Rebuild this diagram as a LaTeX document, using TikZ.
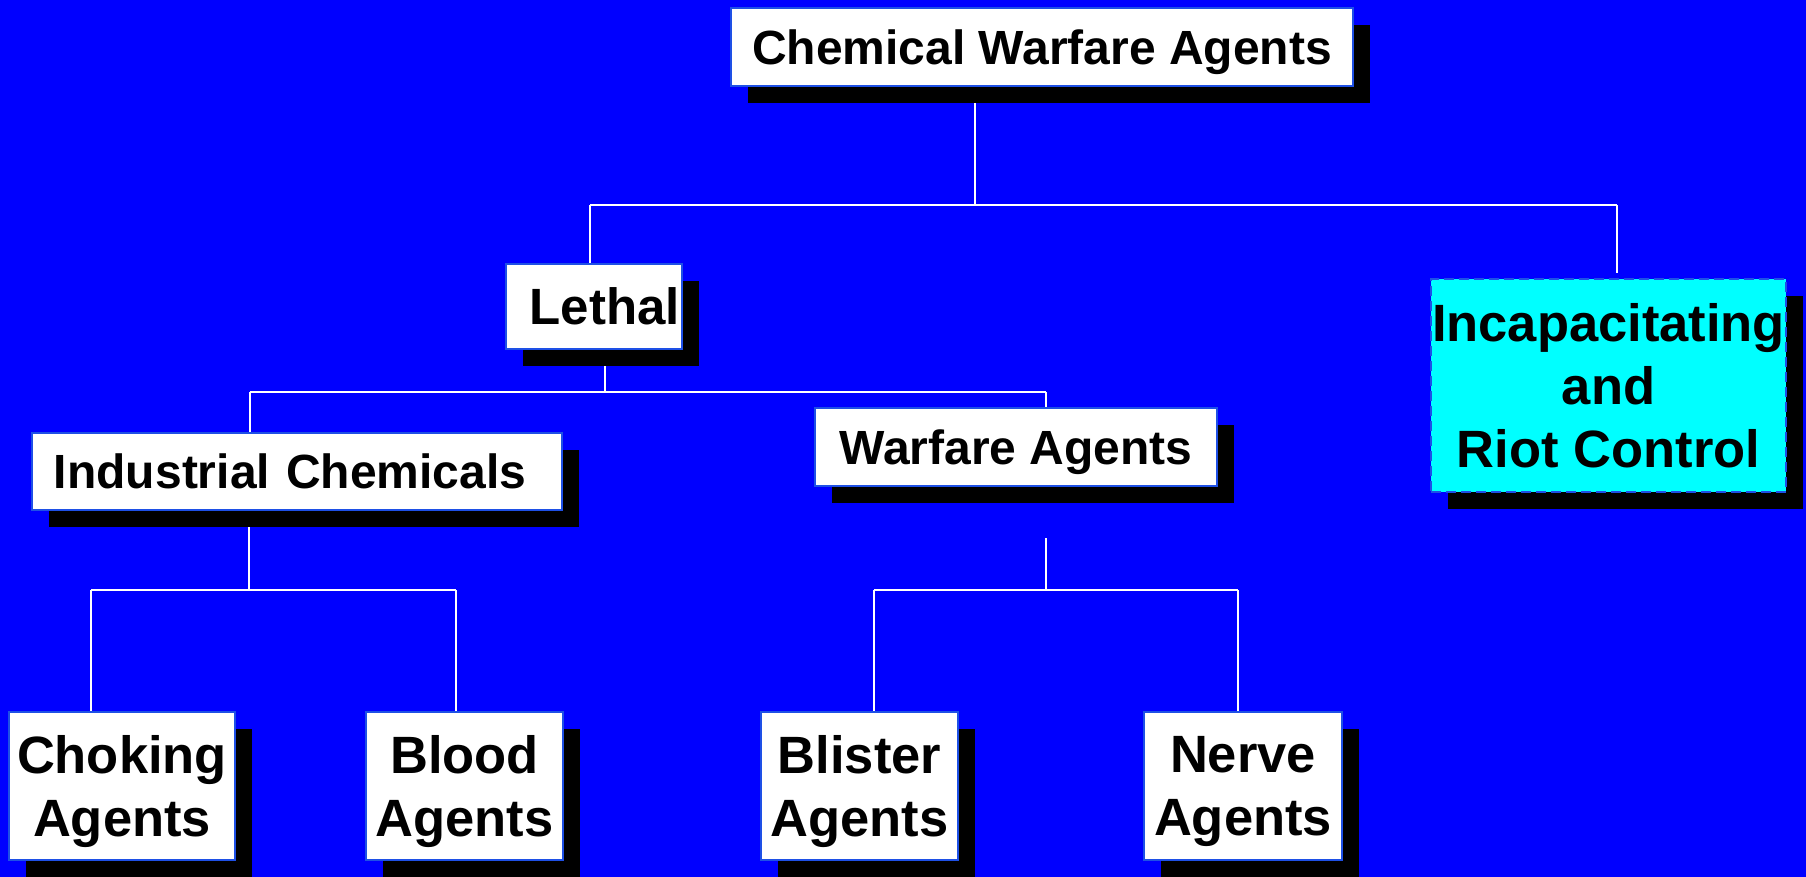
\documentclass[tikz,border=0pt]{standalone}
\usepackage{fontspec}
\setmainfont{Liberation Sans}
\usetikzlibrary{shadows}
\pgfdeclarelayer{bg}
\pgfdeclarelayer{lines}
\pgfsetlayers{bg,lines,main}
\definecolor{bgblue}{RGB}{0,0,255}
\definecolor{edgeblue}{RGB}{30,80,230}
\definecolor{cyanfill}{RGB}{0,255,255}
\tikzset{
  box/.style={draw=edgeblue, line width=1.2pt, fill=white, inner sep=0pt,
    drop shadow={shadow xshift=8.5pt, shadow yshift=-8.5pt, fill=black, opacity=1}},
  midfont/.style={font=\bfseries\fontsize{24}{29}\selectfont},
  bigfont/.style={font=\bfseries\fontsize{26.25}{31.5}\selectfont, align=center},
  lowbox/.style={box, bigfont, minimum height=74pt, text depth=-0.5pt},
  wire/.style={draw=white, line width=1pt}
}
\begin{document}
\begin{tikzpicture}[x=0.5pt,y=-0.5pt]
\begin{pgfonlayer}{bg}
  \fill[bgblue] (0,0) rectangle (1806,877);
\end{pgfonlayer}
\useasboundingbox (0,0) rectangle (1806,877);

% nodes
\node[box, midfont, text depth=0pt, minimum width=311pt, minimum height=39pt] (cwa) at (1042,47) {Chemical Warfare Agents};
\node[box, font=\bfseries\fontsize{25.5}{30}\selectfont, inner xsep=1pt, text width=86pt, align=right, minimum height=42.5pt] (lethal) at (594,306.5) {Lethal};
\node[box, fill=cyanfill, dash pattern=on 5pt off 2.5pt, bigfont, minimum width=177.5pt, minimum height=106.5pt] (incap) at (1608.5,385.5) {Incapacitating\\and\\Riot Control};
\node[box, midfont, inner xsep=11pt, text width=243pt, align=left, minimum height=38.5pt] (ind) at (297,471.5) {Industrial Chemicals};
\node[box, midfont, text depth=-0.5pt, minimum width=201pt, minimum height=39pt] (war) at (1016,447) {Warfare Agents};
\node[lowbox, minimum width=113pt] (choke) at (122,786) {Choking\\Agents};
\node[lowbox, minimum width=98.5pt] (blood) at (464.5,786) {Blood\\Agents};
\node[lowbox, minimum width=98.5pt] (blister) at (859.5,786) {Blister\\Agents};
\node[lowbox, minimum width=99pt] (nerve) at (1243,786) {Nerve\\Agents};

% junction points
\coordinate (ja) at (974.5,205);
\coordinate (jaL) at (590,205);
\coordinate (jaR) at (1617,205);
\coordinate (jb) at (605,392);
\coordinate (jbL) at (250,392);
\coordinate (jbR) at (1046,392);
\coordinate (jc) at (249,590);
\coordinate (jcL) at (91,590);
\coordinate (jcR) at (456,590);
\coordinate (jd) at (1046,590);
\coordinate (jdL) at (874,590);
\coordinate (jdR) at (1238,590);

\begin{pgfonlayer}{lines}
  \draw[wire] (cwa.south -| ja) -- (ja);
  \draw[wire] (jaL) -- (jaR);
  \draw[wire] (jaL) -- (lethal.north -| jaL);
  \draw[wire, shorten >=2.5pt] (jaR) -- (incap.north -| jaR);

  \draw[wire] (lethal.south -| jb) -- (jb);
  \draw[wire] (jbL) -- (jbR);
  \draw[wire] (jbL) -- (ind.north -| jbL);
  \draw[wire] (jbR) -- (war.north -| jbR);

  \draw[wire] (ind.south -| jc) -- (jc);
  \draw[wire] (jcL) -- (jcR);
  \draw[wire] (jcL) -- (choke.north -| jcL);
  \draw[wire] (jcR) -- (blood.north -| jcR);

  \draw[wire, shorten <=25.5pt] (war.south -| jd) -- (jd);
  \draw[wire] (jdL) -- (jdR);
  \draw[wire] (jdL) -- (blister.north -| jdL);
  \draw[wire] (jdR) -- (nerve.north -| jdR);
\end{pgfonlayer}
\end{tikzpicture}
\end{document}
